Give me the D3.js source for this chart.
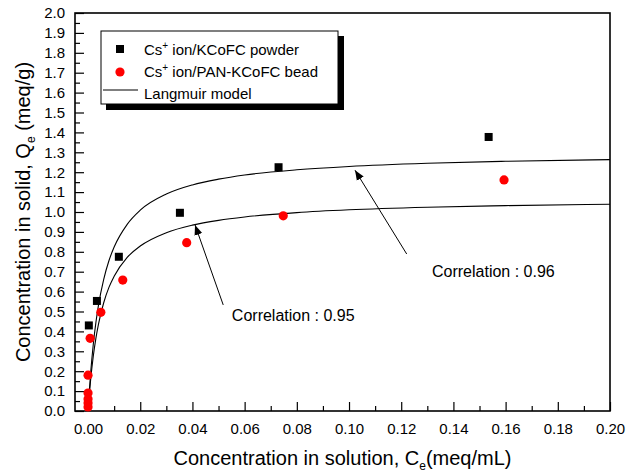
<!DOCTYPE html>
<html lang="en">
<head>
    <meta charset="UTF-8">
    <title>Cs+ isotherm</title>
    <script src="https://cdnjs.cloudflare.com/ajax/libs/d3/7.8.5/d3.min.js"></script>
    <style>
        body { margin: 0; background: #fff; }
        svg { display: block; font-family: "Liberation Sans", Arial, sans-serif; }
        .tick-label { font-size: 15px; fill: #000; }
    </style>
</head>
<body>
    <svg width="626" height="473"></svg>

    <script>
        // measured points
        const powderC = [0.0003, 0.0034, 0.0118, 0.0352, 0.073, 0.1535];
        const powderQ = [0.43, 0.553, 0.775, 0.996, 1.225, 1.377];
        const beadC = [0.0, 0.0, 0.0, 0.0, 0.0, 0.0008, 0.0049, 0.0133, 0.0378, 0.0748, 0.1594];
        const beadQ = [0.02, 0.04, 0.06, 0.09, 0.18, 0.365, 0.496, 0.658, 0.846, 0.981, 1.161];

        // Langmuir model curves
        const modelC = [0, 0.0005, 0.001, 0.002, 0.003, 0.004, 0.006, 0.008, 0.01, 0.015, 0.02, 0.03, 0.04, 0.05, 0.06, 0.08, 0.1, 0.13, 0.16, 0.2];
        const modelPowderQ = [0, 0.103, 0.192, 0.334, 0.444, 0.532, 0.662, 0.755, 0.824, 0.938, 1.009, 1.090, 1.136, 1.165, 1.186, 1.212, 1.229, 1.245, 1.255, 1.263];
        const modelBeadQ = [0, 0.085, 0.158, 0.275, 0.365, 0.437, 0.544, 0.621, 0.677, 0.772, 0.829, 0.896, 0.934, 0.958, 0.975, 0.997, 1.011, 1.024, 1.032, 1.039];

        const xTicks = [0, 0.02, 0.04, 0.06, 0.08, 0.1, 0.12, 0.14, 0.16, 0.18, 0.2];
        const xMinor = [0.01, 0.03, 0.05, 0.07, 0.09, 0.11, 0.13, 0.15, 0.17, 0.19];
        const yTicks = d3.range(0, 21).map(i => i / 10);
        const yMinor = d3.range(0, 20).map(i => i / 10 + 0.05);

        const legendLabels = ["ion/KCoFC powder", "ion/PAN-KCoFC bead", "Langmuir model"];

        // annotations: [text, text x, text y, arrow tail x, tail y, tip x, tip y]
        const notes = [
            ["Correlation : 0.96", 0.1318, 0.672, 0.1221, 0.789, 0.1023, 1.21],
            ["Correlation : 0.95", 0.0551, 0.450, 0.0518, 0.533, 0.0410, 0.935]
        ];

        const svg = d3.select("svg");
        const pLeft = 75, pRight = 610, pTop = 13, pBottom = 411;

        const x = d3.scaleLinear().domain([-0.005, 0.2]).range([pLeft, pRight]);
        const y = d3.scaleLinear().domain([0, 2]).range([pBottom, pTop]);

        svg.append("defs").append("marker")
            .attr("id", "head")
            .attr("viewBox", "0 0 10 10")
            .attr("refX", 10).attr("refY", 5)
            .attr("markerWidth", 10).attr("markerHeight", 10)
            .attr("markerUnits", "userSpaceOnUse")
            .attr("orient", "auto")
            .append("path")
            .attr("d", "M0,1 L10,5 L0,9 Z")
            .attr("fill", "#000");

        // axes with inward ticks
        svg.append("g").attr("transform", `translate(0,${pBottom})`)
            .call(d3.axisBottom(x).tickValues(xTicks).tickSizeInner(-9).tickSizeOuter(0)
                .tickPadding(12).tickFormat(d3.format(".2f")));
        svg.append("g").attr("transform", `translate(0,${pBottom})`)
            .call(d3.axisBottom(x).tickValues(xMinor).tickSizeInner(-5).tickSizeOuter(0).tickFormat(""));
        svg.append("g").attr("transform", `translate(${pLeft},0)`)
            .call(d3.axisLeft(y).tickValues(yTicks).tickSizeInner(-9).tickSizeOuter(0)
                .tickPadding(10).tickFormat(d3.format(".1f")));
        svg.append("g").attr("transform", `translate(${pLeft},0)`)
            .call(d3.axisLeft(y).tickValues(yMinor).tickSizeInner(-5).tickSizeOuter(0).tickFormat(""));

        svg.selectAll(".tick line").attr("stroke", "#000").attr("stroke-width", 1.2);
        svg.selectAll(".domain").remove();
        svg.selectAll(".tick text").attr("class", "tick-label");
        svg.selectAll("g").attr("font-family", null).attr("font-size", null);

        svg.append("rect")
            .attr("x", pLeft).attr("y", pTop)
            .attr("width", pRight - pLeft).attr("height", pBottom - pTop)
            .attr("fill", "none").attr("stroke", "#000").attr("stroke-width", 1.6);

        // model lines
        const line = d3.line().x(d => x(d[0])).y(d => y(d[1])).curve(d3.curveMonotoneX);
        [modelPowderQ, modelBeadQ].forEach(qs => {
            svg.append("path")
                .datum(modelC.map((c, i) => [c, qs[i]]))
                .attr("d", line)
                .attr("fill", "none")
                .attr("stroke", "#000")
                .attr("stroke-width", 1.1);
        });

        // points
        svg.append("g").selectAll("rect")
            .data(powderC.map((c, i) => [c, powderQ[i]]))
            .join("rect")
            .attr("x", d => x(d[0]) - 4).attr("y", d => y(d[1]) - 4)
            .attr("width", 8).attr("height", 8)
            .attr("fill", "#000");

        svg.append("g").selectAll("circle")
            .data(beadC.map((c, i) => [c, beadQ[i]]))
            .join("circle")
            .attr("cx", d => x(d[0])).attr("cy", d => y(d[1]))
            .attr("r", 4.6)
            .attr("fill", "#ff0000");

        // annotations
        notes.forEach(n => {
            svg.append("line")
                .attr("x1", x(n[3])).attr("y1", y(n[4]))
                .attr("x2", x(n[5])).attr("y2", y(n[6]))
                .attr("stroke", "#000").attr("stroke-width", 1)
                .attr("marker-end", "url(#head)");
            svg.append("text")
                .attr("x", x(n[1])).attr("y", y(n[2]))
                .attr("font-size", 16)
                .text(n[0]);
        });

        // legend with drop shadow
        const lg = svg.append("g");
        lg.append("rect").attr("x", 106).attr("y", 36).attr("width", 238).attr("height", 74).attr("fill", "#000");
        lg.append("rect").attr("x", 101).attr("y", 31).attr("width", 237).attr("height", 73)
            .attr("fill", "#fff").attr("stroke", "#000").attr("stroke-width", 1);
        lg.append("rect").attr("x", 116).attr("y", 45).attr("width", 8).attr("height", 8).attr("fill", "#000");
        lg.append("circle").attr("cx", 120).attr("cy", 72).attr("r", 4.6).attr("fill", "#ff0000");
        lg.append("line").attr("x1", 103).attr("x2", 138).attr("y1", 90).attr("y2", 90)
            .attr("stroke", "#000").attr("stroke-width", 1.1);
        legendLabels.forEach((t, i) => {
            const tx = lg.append("text").attr("x", 144).attr("y", 55 + i * 22).attr("font-size", 15);
            if (i < 2) {
                tx.append("tspan").text("Cs");
                tx.append("tspan").attr("dy", -6).attr("font-size", 10).text("+");
                tx.append("tspan").attr("dy", 6).text(" " + t);
            } else {
                tx.text(t);
            }
        });

        // axis titles
        const xt = svg.append("text")
            .attr("x", (pLeft + pRight) / 2).attr("y", 465)
            .attr("text-anchor", "middle").attr("font-size", 20);
        xt.append("tspan").text("Concentration in solution, C");
        xt.append("tspan").attr("dy", 5).attr("font-size", 12).text("e");
        xt.append("tspan").attr("dy", -5).text("(meq/mL)");

        const yt = svg.append("text")
            .attr("transform", `translate(30,${(pTop + pBottom) / 2}) rotate(-90)`)
            .attr("text-anchor", "middle").attr("font-size", 20);
        yt.append("tspan").text("Concentration in solid, Q");
        yt.append("tspan").attr("dy", 5).attr("font-size", 12).text("e");
        yt.append("tspan").attr("dy", -5).text(" (meq/g)");
    </script>
</body>
</html>
